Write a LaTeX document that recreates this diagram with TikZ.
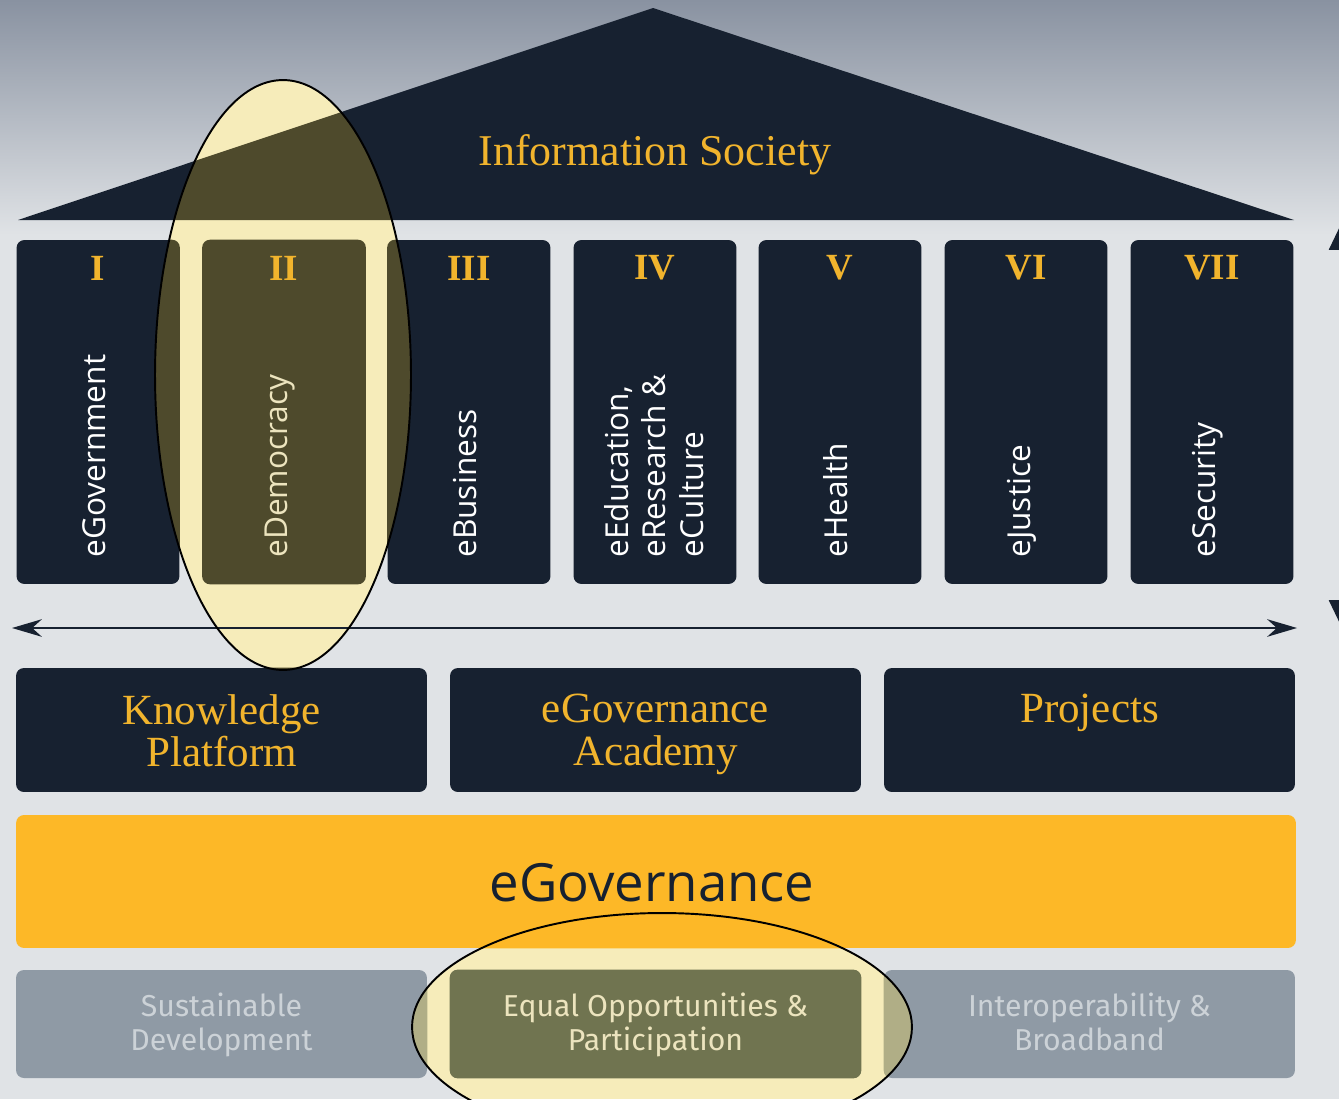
\documentclass[tikz,border=0pt]{standalone}
\usepackage{fontspec}
\setmainfont{Liberation Serif}
\newfontfamily\pillarfont{Open Sans}
\newfontfamily\basefont{Fira Sans}
\usetikzlibrary{arrows.meta}
\definecolor{navy}{RGB}{23,33,48}
\definecolor{gold}{RGB}{241,180,45}
\definecolor{baryellow}{RGB}{253,184,39}
\definecolor{graybox}{RGB}{143,154,165}
\definecolor{graytext}{RGB}{204,210,215}
\definecolor{bglight}{RGB}{224,227,230}
\definecolor{bgtop}{RGB}{137,146,161}
\definecolor{hlpale}{RGB}{246,236,186}
\definecolor{hlnavy}{RGB}{78,74,44}
\definecolor{hlgray}{RGB}{112,116,80}
\definecolor{hlgraylight}{RGB}{176,174,134}
\definecolor{hltext}{RGB}{236,228,190}
\begin{document}
\begin{tikzpicture}[x=0.02cm,y=-0.02cm,
  pillar/.style={fill=navy,rounded corners=4.5pt,minimum width=3.26cm,minimum height=6.88cm,inner sep=0pt},
  numeral/.style={text=gold,font=\bfseries\fontsize{21}{24}\selectfont},
  plabel/.style={text=white,font=\pillarfont\fontsize{18}{21.5}\selectfont,rotate=90,anchor=west,align=left,inner sep=0pt},
  midbox/.style={fill=navy,rounded corners=4.5pt,minimum width=8.22cm,minimum height=2.48cm,inner sep=0pt},
  midtext/.style={text=gold,font=\fontsize{24.5}{24}\selectfont,align=center,anchor=north,inner sep=0pt},
  basebox/.style={fill=graybox,rounded corners=4.5pt,minimum width=8.22cm,minimum height=2.16cm,inner sep=0pt},
  basetext/.style={text=graytext,font=\basefont\fontsize{17.2}{19}\selectfont,align=center,anchor=north,inner sep=0pt},
  hlline/.style={draw=black,line width=1.1pt},
  shapefill/.style={rounded corners=4.5pt},
  dblarrow/.style={draw=navy,line width=1.1pt,{Stealth[length=17pt,width=10pt]}-{Stealth[length=17pt,width=10pt]}}
]
\useasboundingbox (0,0) rectangle (1339,1099);
\fill[bglight] (0,0) rectangle (1339,1099);
\shade[top color=bgtop,bottom color=bglight] (0,0) rectangle (1339,235);

% roof
\fill[navy] (18,220) -- (653,8) -- (1294,220) -- cycle;

% pillars
\foreach \n/\cx in {1/98,2/284,3/469,4/655,5/840,6/1026,7/1212}{
  \node[pillar] (p\n) at (\cx,412) {};
}

% middle row boxes
\node[midbox] (m1) at (221.5,730) {};
\node[midbox] (m2) at (655.5,730) {};
\node[midbox] (m3) at (1089.5,730) {};

% eGovernance bar
\node[fill=baryellow,rounded corners=4.5pt,minimum width=25.6cm,minimum height=2.66cm,inner sep=0pt] (bar) at (656,881.5) {};

% base row boxes
\node[basebox] (b1) at (221.5,1024) {};
\node[basebox] (b2) at (655.5,1024) {};
\node[basebox] (b3) at (1089.5,1024) {};

% highlight 1 (tinted copy of what lies under it)
\begin{scope}
  \clip (283,375) ellipse [x radius=2.56cm, y radius=5.9cm];
  \fill[hlpale] (0,0) rectangle (1339,1099);
  \fill[hlnavy] (18,220) -- (653,8) -- (1294,220) -- cycle;
  \foreach \n in {1,2,3}{
    \fill[hlnavy,shapefill] (p\n.south west) rectangle (p\n.north east);
  }
  \fill[hlnavy,shapefill] (m1.south west) rectangle (m1.north east);
\end{scope}
% highlight 2
\begin{scope}
  \clip (662,1027) ellipse [x radius=5cm, y radius=2.28cm];
  \fill[hlpale] (0,0) rectangle (1339,1099);
  \fill[baryellow,shapefill] (bar.south west) rectangle (bar.north east);
  \fill[hlgraylight,shapefill] (b1.south west) rectangle (b1.north east);
  \fill[hlgraylight,shapefill] (b3.south west) rectangle (b3.north east);
  \fill[hlgray,shapefill] (b2.south west) rectangle (b2.north east);
\end{scope}

% texts
\node[text=gold,font=\fontsize{25}{28}\selectfont] (roof) at (655,155) {Information Society};
\foreach \n/\cx/\num in {1/98/I,2/284/II,3/469/III,4/655/IV,5/840/V,6/1026/VI,7/1212/VII}{
  \node[numeral] (n\n) at (\cx,268) {\num};
}
\node[plabel] (l1) at (94,558) {eGovernment};
\node[plabel,text=hltext] (l2) at (280,558) {eDemocracy};
\node[plabel] (l3) at (465,558) {eBusiness};
\node[plabel] (l4) at (654,558) {eEducation,\\eResearch \&\\eCulture};
\node[plabel] (l5) at (836,558) {eHealth};
\node[plabel] (l6) at (1022,558) {eJustice};
\node[plabel] (l7) at (1208,558) {eSecurity};

\node[midtext] (t1) at (221.5,694) {Knowledge\\Platform};
\node[midtext] (t2) at (655.5,694) {eGovernance\\Academy};
\node[midtext] (t3) at (1089.5,694) {Projects};

\node[text=navy,font=\pillarfont\fontsize{30}{34}\selectfont] (bartext) at (652,883) {eGovernance};

\node[basetext] (bt1) at (221.5,993) {Sustainable\\Development};
\node[basetext,text=hltext] (bt2) at (655.5,993) {Equal Opportunities \&\\Participation};
\node[basetext] (bt3) at (1089.5,993) {Interoperability \&\\Broadband};

% double arrow
\coordinate (al) at (12,628);
\coordinate (ar) at (1297,628);
\draw[dblarrow] (al) -- (ar);

% right vertical arrow (cut by page edge)
\coordinate (vt) at (1343,220);
\coordinate (vb) at (1343,630);
\draw[draw=navy,line width=1.1pt,{Triangle[length=17pt,width=16pt]}-{Triangle[length=17pt,width=16pt]}] (vt) -- (vb);

% highlight outlines
\draw[hlline] (283,375) ellipse [x radius=2.56cm, y radius=5.9cm];
\draw[hlline] (662,1027) ellipse [x radius=5cm, y radius=2.28cm];
\end{tikzpicture}
\end{document}
